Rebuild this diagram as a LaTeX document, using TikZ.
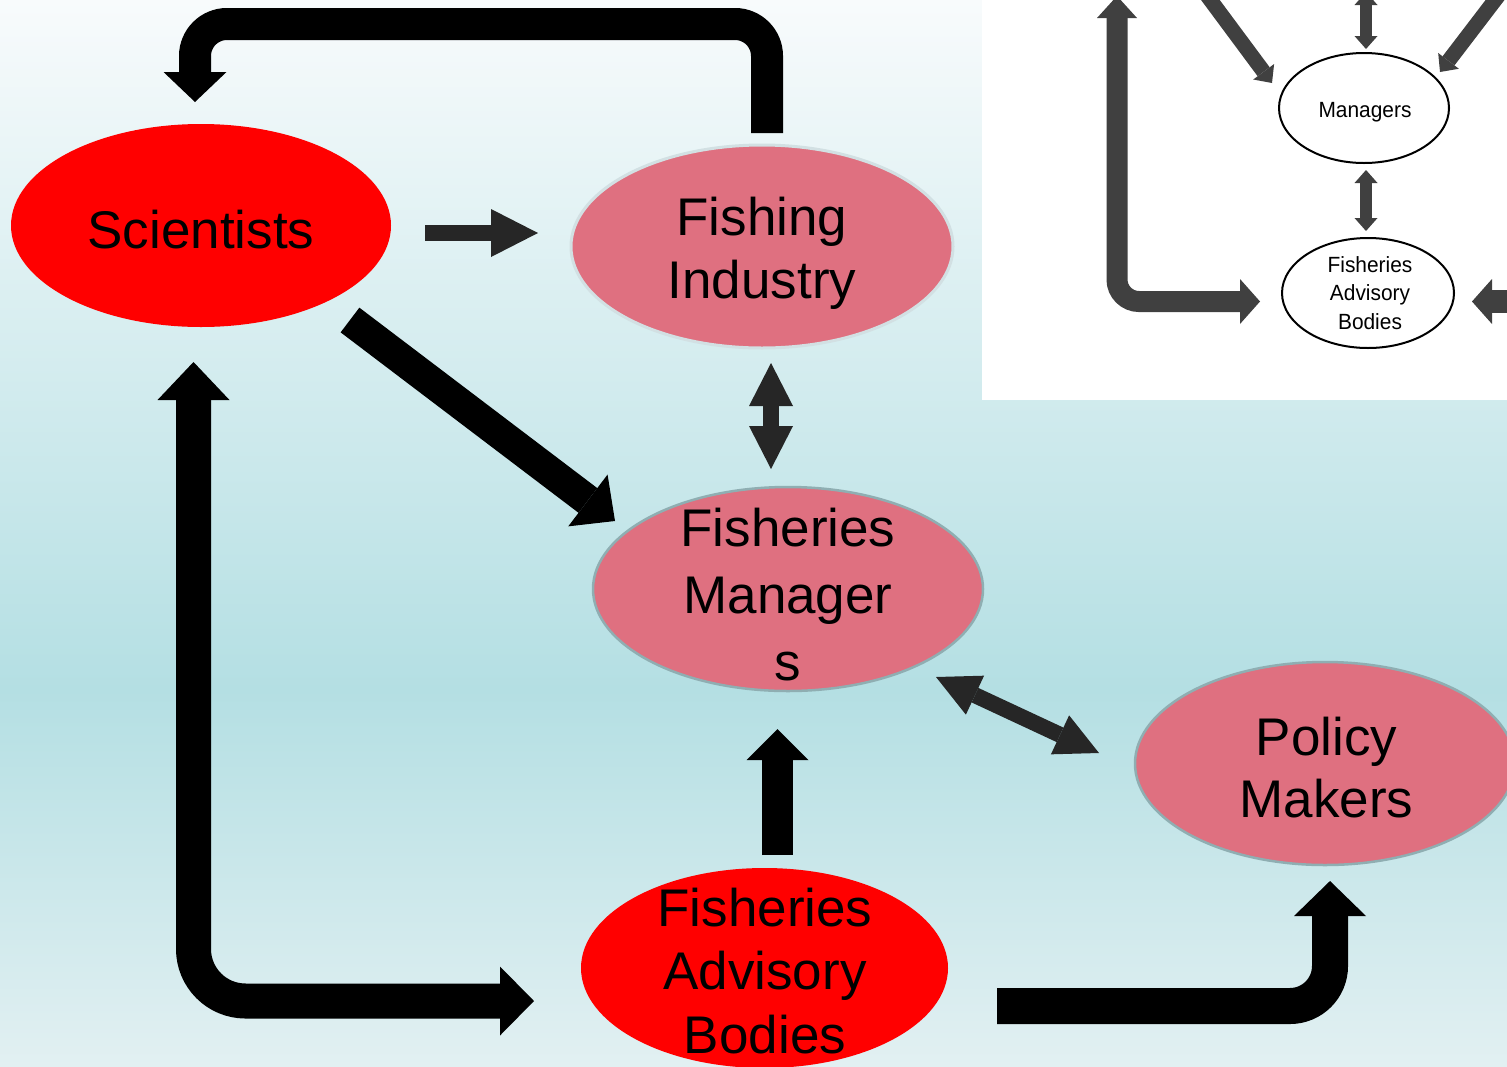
\documentclass[tikz,border=0pt]{standalone}
\usepackage{fontspec}
\setmainfont{Liberation Sans}
\newfontfamily\insetfont[FakeStretch=0.95]{Liberation Sans}
\usetikzlibrary{arrows.meta,shapes.geometric}
\definecolor{bgtop}{HTML}{F8FBFC}
\definecolor{bgmid}{HTML}{B4DFE3}
\definecolor{bgbot}{HTML}{E2F0F2}
\definecolor{pinkfill}{HTML}{DF7080}
\definecolor{pinkline}{HTML}{8FAEB2}
\definecolor{paleline}{HTML}{D2E0E3}
\definecolor{darkarrow}{HTML}{262626}
\definecolor{insetgray}{HTML}{404040}
\tikzset{
  redell/.style={ellipse, fill=red, draw=none, inner sep=0pt},
  pinkell/.style={ellipse, fill=pinkfill, draw=pinkline, line width=2.5pt, inner sep=0pt},
  paleell/.style={ellipse, fill=pinkfill, draw=paleline, line width=3pt, inner sep=0pt},
  insetell/.style={ellipse, fill=white, draw=black, line width=2pt, inner sep=0pt},
  lbl/.style={align=center, inner sep=0pt, text=black},
  insettext/.style={font=\insetfont\fontsize{22}{28.5}\selectfont, align=center, inner sep=0pt, text=black},
  blackarrow/.style={draw=black},
  grayarrow/.style={draw=darkarrow},
  insetarrow/.style={draw=insetgray},
}
\begin{document}
\begin{tikzpicture}[x=1pt,y=-1pt]
\useasboundingbox (0,0) rectangle (1507,1066);
\clip (0,0) rectangle (1507,1066);
% background
\shade[top color=bgtop,bottom color=bgmid] (0,0) rectangle (1507,690);
\shade[top color=bgmid,bottom color=bgbot] (0,689) rectangle (1507,1066);

% ---------- inset ----------
\begin{scope}
\clip (982,0) rectangle (1507,400);
\fill[white] (982,0) rectangle (1507,400);
\node[insetell, minimum width=170pt, minimum height=110pt] (imgr) at (1364,108) {};
\node[insetell, minimum width=172pt, minimum height=110pt] (ifab) at (1368,293) {};
\node[insettext, anchor=base] (imgrt) at (1365,117) {Managers};
\node[insettext, anchor=north] (ifabt) at (1370,252) {\strut Fisheries\\\strut Advisory\\\strut Bodies};
\coordinate (iLtop) at (1117,-4);
\coordinate (iLcorner) at (1117,301.5);
\coordinate (iLend) at (1260,301.5);
\draw[insetarrow, line width=21pt, rounded corners=22pt,
  {Triangle[width=40pt,length=22pt,line width=0pt]}-{Triangle[width=45pt,length=20pt,line width=0pt]}]
  (iLtop) -- (iLcorner) -- (iLend);
\coordinate (iDL0) at (1200,-14);
\coordinate (iDL1) at (1272,83);
\draw[insetarrow, line width=15pt, -{Triangle[width=26pt,length=14pt,line width=0pt]}] (iDL0) -- (iDL1);
\coordinate (iDR0) at (1508,-17);
\coordinate (iDR1) at (1440,72);
\draw[insetarrow, line width=15pt, -{Triangle[width=26pt,length=14pt,line width=0pt]}] (iDR0) -- (iDR1);
\coordinate (iV0) at (1366,-8);
\coordinate (iV1) at (1366,49);
\draw[insetarrow, line width=12pt,
  {Triangle[width=23pt,length=13pt,line width=0pt]}-{Triangle[width=23pt,length=13pt,line width=0pt]}] (iV0) -- (iV1);
\coordinate (iM0) at (1366,170);
\coordinate (iM1) at (1366,231);
\draw[insetarrow, line width=12pt,
  {Triangle[width=23pt,length=13pt,line width=0pt]}-{Triangle[width=23pt,length=13pt,line width=0pt]}] (iM0) -- (iM1);
\coordinate (iR0) at (1530,301.5);
\coordinate (iR1) at (1472,301.5);
\draw[insetarrow, line width=23pt, -{Triangle[width=45pt,length=20pt,line width=0pt]}] (iR0) -- (iR1);
\end{scope}

% ---------- main nodes ----------
\node[redell, minimum width=380pt, minimum height=203pt] (sci) at (201,225.5) {};
\node[paleell, minimum width=382pt, minimum height=203pt] (fi) at (762,246.5) {};
\node[pinkell, minimum width=390pt, minimum height=204pt] (fm) at (788,589) {};
\node[pinkell, minimum width=380pt, minimum height=203pt] (pm) at (1325,763.5) {};
\node[redell, minimum width=367pt, minimum height=200pt] (fab) at (764.5,968) {};

\node[lbl, font=\fontsize{53}{63}\selectfont, anchor=base] (scit) at (201,248) {Scientists};
\node[lbl, font=\fontsize{53}{63}\selectfont, anchor=north] (fit) at (762,190.9) {\strut Fishing\\\strut Industry};
\node[lbl, font=\fontsize{53}{67}\selectfont, anchor=north] (fmt) at (788,499.1) {\strut Fisheries\\\strut Manager\\\strut s};
\node[lbl, font=\fontsize{53}{62}\selectfont, anchor=north] (pmt) at (1326.5,711.6) {\strut Policy\\\strut Makers};
\node[lbl, font=\fontsize{53}{63.5}\selectfont, anchor=north] (fabt) at (765,881.5) {\strut Fisheries\\\strut Advisory\\\strut Bodies};

% ---------- main connectors ----------
% Fishing Industry -> Scientists (top loop)
\coordinate (fiOut) at (767,133);
\coordinate (topR) at (767,24);
\coordinate (topL) at (195,24);
\coordinate (sciIn) at (195,102);
\draw[blackarrow, line width=32pt, rounded corners=32pt,
  -{Triangle[width=63pt,length=30pt,line width=0pt]}] (fiOut) -- (topR) -- (topL) -- (sciIn);
% Scientists -> Fishing Industry
\coordinate (sciR) at (425,233);
\coordinate (fiL) at (538,233);
\draw[grayarrow, line width=16pt, -{Triangle[width=48pt,length=47pt,line width=0pt]}] (sciR) -- (fiL);
% Scientists -> Fisheries Managers
\coordinate (sciD) at (350,320);
\coordinate (fmUL) at (615,521);
\draw[blackarrow, line width=31pt, -{Triangle[width=65pt,length=34pt,line width=0pt]}] (sciD) -- (fmUL);
% Fishing Industry <-> Fisheries Managers
\coordinate (fiB) at (771,363);
\coordinate (fmT) at (771,469);
\draw[grayarrow, line width=16pt,
  {Triangle[width=44pt,length=43pt,line width=0pt]}-{Triangle[width=44pt,length=43pt,line width=0pt]}] (fiB) -- (fmT);
% Fisheries Managers <-> Policy Makers
\coordinate (fmBR) at (936,677);
\coordinate (pmL) at (1099,753);
\draw[grayarrow, line width=16pt,
  {Triangle[width=43pt,length=43pt,line width=0pt]}-{Triangle[width=43pt,length=43pt,line width=0pt]}] (fmBR) -- (pmL);
% FAB -> Fisheries Managers
\coordinate (fabT) at (777.5,855);
\coordinate (fmB) at (777.5,729);
\draw[blackarrow, line width=31pt, -{Triangle[width=62pt,length=31pt,line width=0pt]}] (fabT) -- (fmB);
% Scientists <-> FAB (left loop)
\coordinate (sciB) at (193.5,362);
\coordinate (llCorner) at (193.5,1001);
\coordinate (fabL) at (534,1001);
\draw[blackarrow, line width=35pt, rounded corners=52pt,
  {Triangle[width=72pt,length=38pt,line width=0pt]}-{Triangle[width=69pt,length=34pt,line width=0pt]}]
  (sciB) -- (llCorner) -- (fabL);
% FAB -> Policy Makers
\coordinate (fabR) at (997,1006);
\coordinate (brCorner) at (1330,1006);
\coordinate (pmB) at (1330,881);
\draw[blackarrow, line width=36pt, rounded corners=40pt,
  -{Triangle[width=72pt,length=35pt,line width=0pt]}] (fabR) -- (brCorner) -- (pmB);
\end{tikzpicture}
\end{document}
